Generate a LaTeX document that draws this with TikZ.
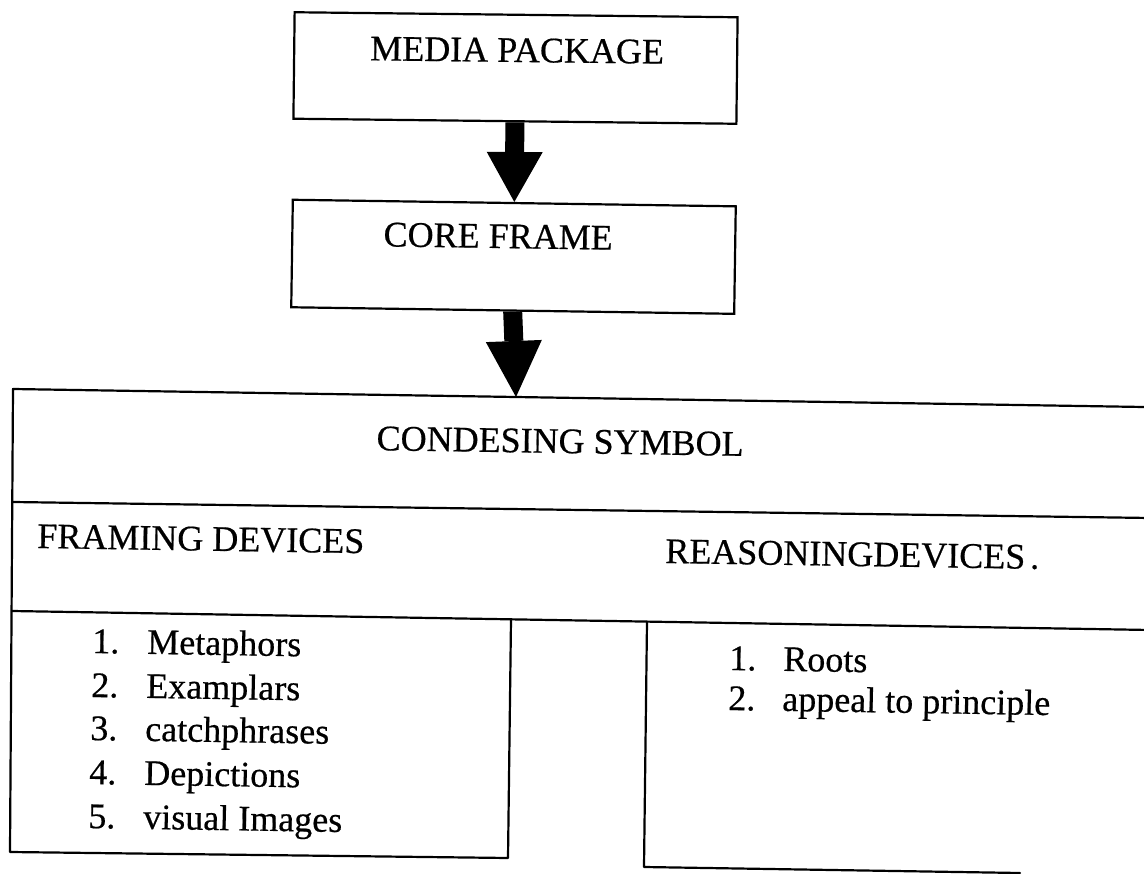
\documentclass[tikz,border=0pt]{standalone}
\usepackage{fontspec}
\setmainfont[FakeBold=0.5]{Liberation Serif}
\usetikzlibrary{arrows.meta}
\begin{document}
\begin{tikzpicture}[x=1pt,y=-1pt,
  box/.style={draw=black, line width=2.2pt, minimum width=443pt, inner sep=0pt},
  txt/.style={inner sep=0pt, font=\fontsize{36}{43}\selectfont},
  blockarrow/.style={line width=19pt, -{Triangle[width=56pt,length=#1,line width=0pt]}},
  rule/.style={line width=2.2pt, line cap=round, line join=round}
]
\useasboundingbox (0,0) rectangle (1144,874);
\clip (0,0) rectangle (1144,874);

% top boxes
\node[box, minimum height=106.5pt, rotate=-0.65] (media) at (515.5,68) {};
\node[txt, anchor=base, rotate=-0.65] (mediaT) at (517,62) {MEDIA PACKAGE};
\node[box, minimum height=107.5pt, rotate=-0.85] (core) at (513.5,256.8) {};
\node[txt, anchor=base, rotate=-0.85] (coreT) at (498,248) {CORE FRAME};

% block arrows
\coordinate (tip2) at (516,397);
\draw[blockarrow=50pt] (media.south) -- (core.north);
\draw[blockarrow=56pt] (core.south) -- (tip2);

% table
\draw[rule] (1150,407.1) -- (13,389) -- (10,852) -- (508,858) -- (511,619.3);
\draw[rule] (13,502) -- (1150,518);
\draw[rule] (12,611) -- (1150,630);
\coordinate (rbend) at (1020,873);
\draw[rule] (647,621.6) -- (644,867) -- (rbend);

% table texts
\node[txt, anchor=base, rotate=-0.9] (cond) at (560,453) {CONDESING SYMBOL};
\node[txt, anchor=base west, rotate=-0.9] (frm) at (37,548) {FRAMING DEVICES};
\node[txt, anchor=base west, rotate=-0.9] (rsn) at (665,563) {REASONINGDEVICES\hspace{5pt}.};

% left list
\node[txt, anchor=base west, rotate=-0.9] (f1) at (92,653) {\makebox[55pt][l]{1.}Metaphors};
\node[txt, anchor=base west, rotate=-0.9] (f2) at (91,697) {\makebox[55pt][l]{2.}Examplars};
\node[txt, anchor=base west, rotate=-0.9] (f3) at (90,740) {\makebox[55pt][l]{3.}catchphrases};
\node[txt, anchor=base west, rotate=-0.9] (f4) at (89,784) {\makebox[55pt][l]{4.}Depictions};
\node[txt, anchor=base west, rotate=-0.9] (f5) at (88,828) {\makebox[55pt][l]{5.}visual Images};

% right list
\node[txt, anchor=base west, rotate=-0.9] (r1) at (729,670) {\makebox[54pt][l]{1.}Roots};
\node[txt, anchor=base west, rotate=-0.9] (r2) at (728,710) {\makebox[54pt][l]{2.}appeal to principle};
\end{tikzpicture}
\end{document}
